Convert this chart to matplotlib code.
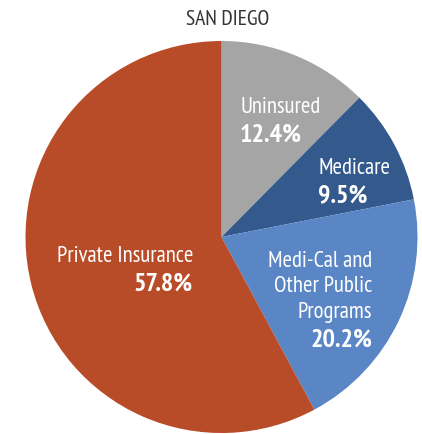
import matplotlib
matplotlib.use("Agg")
import matplotlib.pyplot as plt
from matplotlib.font_manager import FontProperties, findfont
from matplotlib.textpath import TextPath

# Dados
categorias = [["Uninsured"], ["Medicare"], ["Medi-Cal and", "Other Public", "Programs"], ["Private Insurance"]]
valores = [12.4, 9.5, 20.2, 57.8]
cores = ["#A5A5A5", "#345A8D", "#5A86C5", "#B94C28"]
rotulos_pct = ["12.4%", "9.5%", "20.2%", "57.8%"]

# fonte condensada mais parecida com a original (largura/altura de "Private Insurance")
candidatas = ["Fira Sans Extra Condensed", "Fira Sans Condensed", "PT Sans Narrow",
              "Sofia Sans Condensed", "Sofia Sans Semi Condensed", "Asap Condensed",
              "Encode Sans Condensed", "Roboto Condensed", "Archivo Narrow",
              "Barlow Semi Condensed", "IBM Plex Sans Condensed"]
ALVO_RAZAO = 133 / 17.5


def medir(texto, familia, peso="normal"):
    fp = FontProperties(family=familia, weight=peso)
    ext = TextPath((0, 0), texto, size=100, prop=fp).get_extents()
    return ext.width, ext.height


melhor, melhor_dif = "DejaVu Sans", 1e9
for nome in candidatas:
    try:
        findfont(FontProperties(family=nome), fallback_to_default=False)
    except ValueError:
        continue
    w, h = medir("Private Insurance", nome)
    dif = abs(w / h - ALVO_RAZAO)
    if dif < melhor_dif:
        melhor, melhor_dif = nome, dif
fonte = [melhor, "DejaVu Sans"]

PX_PT = 100 / 72  # dpi 100
tam_rot = 133 / (medir("Private Insurance", melhor)[0] / 100 * PX_PT)
tam_pct = 57 / (medir("57.8%", melhor, "bold")[0] / 100 * PX_PT)
tam_tit = 82 / (medir("SAN DIEGO", melhor)[0] / 100 * PX_PT)

W, H = 422, 435
fig = plt.figure(figsize=(W / 100, H / 100), dpi=100)
ax = fig.add_axes([0, 0, 1, 1])

# eixo y invertido -> counterclock=True fica horário na tela
ax.pie(valores, colors=cores, startangle=-90, counterclock=True,
       center=(221.5, 238), radius=196, frame=True,
       wedgeprops=dict(linewidth=0))
ax.set_xlim(0, W)
ax.set_ylim(H, 0)
ax.set_aspect("equal")
ax.axis("off")

ax.text(228, 25, "SAN DIEGO", ha="center", va="baseline",
        fontsize=tam_tit, color="#333333", family=fonte)

# âncora (x, linha de base da 1a linha, alinhamento)
pos = [(240, 113, "left"), (318, 174, "left"), (372, 267, "right"), (193, 262, "right")]
entrelinha = 25.5
for linhas, pct, (x, y, ha) in zip(categorias, rotulos_pct, pos):
    for i, linha in enumerate(linhas):
        ax.text(x, y + i * entrelinha, linha, ha=ha, va="baseline", fontsize=tam_rot,
                color="white", family=fonte)
    ax.text(x, y + (len(linhas) - 1) * entrelinha + 28.5, pct, ha=ha, va="baseline",
            fontsize=tam_pct, color="white", family=fonte, fontweight="bold")

fig.savefig("out.png", dpi=100)
